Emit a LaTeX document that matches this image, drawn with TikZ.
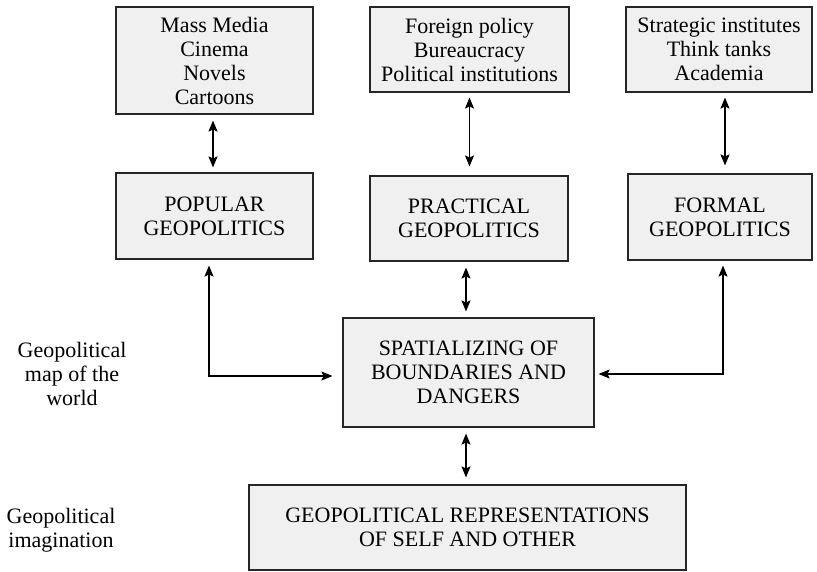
\documentclass[tikz,border=0pt]{standalone}
\usepackage{fontspec}
\setmainfont{Liberation Serif}
\usetikzlibrary{arrows.meta}

\begin{document}
\begin{tikzpicture}
[
x=1pt,y=-1pt,
box/.style 2 args={draw=black!85,fill=black!6,line width=1.1pt,inner sep=0pt,
            align=center,minimum width=#1,minimum height=#2,
            font=\rmfamily\fontsize{22}{24}\selectfont},
side/.style={align=center,font=\rmfamily\fontsize{22}{24}\selectfont},
conn/.style={{Stealth[length=11pt,width=9pt,inset=2pt]}-{Stealth[length=11pt,width=9pt,inset=2pt]},line width=1.1pt},
]
\useasboundingbox (0,0) rectangle (817,571);

%Place the nodes
\node[box={197pt}{107pt}] (media) at (214.5,60.5) {Mass Media\\Cinema\\Novels\\Cartoons};
\node[box={199pt}{85pt}] (policy) at (469.5,49.5) {Foreign policy\\Bureaucracy\\Political institutions};
\node[box={186pt}{85pt}] (think) at (719,49.5) {Strategic institutes\\Think tanks\\Academia};
\node[box={197pt}{86pt}] (popular) at (214.5,216) {POPULAR\\GEOPOLITICS};
\node[box={198pt}{85pt}] (practical) at (469,218.5) {PRACTICAL\\GEOPOLITICS};
\node[box={184pt}{86pt}] (formal) at (720,217) {FORMAL\\GEOPOLITICS};
\node[box={251pt}{109pt}] (spatial) at (468.5,372.5) {SPATIALIZING OF\\BOUNDARIES AND\\DANGERS};
\node[box={437pt}{85pt}] (repr) at (467.5,527.5) {GEOPOLITICAL REPRESENTATIONS\\OF SELF AND OTHER};
\node[side] (map) at (72,374) {Geopolitical\\map of the\\world};
\node[side] (imag) at (61,530) {Geopolitical\\imagination};

%Draw the connections
\draw[conn,shorten <=6pt,shorten >=5pt] ([xshift=-1.5pt]media.south) -- ([xshift=-1.5pt]popular.north);
\draw[conn,shorten <=5pt,shorten >=9pt] (policy.south) -- (policy.south |- practical.north);
\draw[conn,shorten <=5pt,shorten >=8pt] ([xshift=6pt]think.south) -- ([xshift=6pt]think.south |- formal.north);
\draw[conn,shorten <=6pt,shorten >=6pt] ([xshift=-3pt]practical.south) -- ([xshift=-3pt]practical.south |- spatial.north);
\draw[conn,shorten <=6pt,shorten >=7pt] ([xshift=-2.5pt]spatial.south) -- ([xshift=-2.5pt]spatial.south |- repr.north);
\draw[conn,shorten <=6pt,shorten >=10pt] ([xshift=-5.5pt]popular.south) |- ([yshift=-3.5pt]spatial.west);
\draw[conn,shorten <=5pt,shorten >=4pt] ([xshift=3pt]formal.south) |- ([yshift=-1.5pt]spatial.east);
\end{tikzpicture}
\end{document}
